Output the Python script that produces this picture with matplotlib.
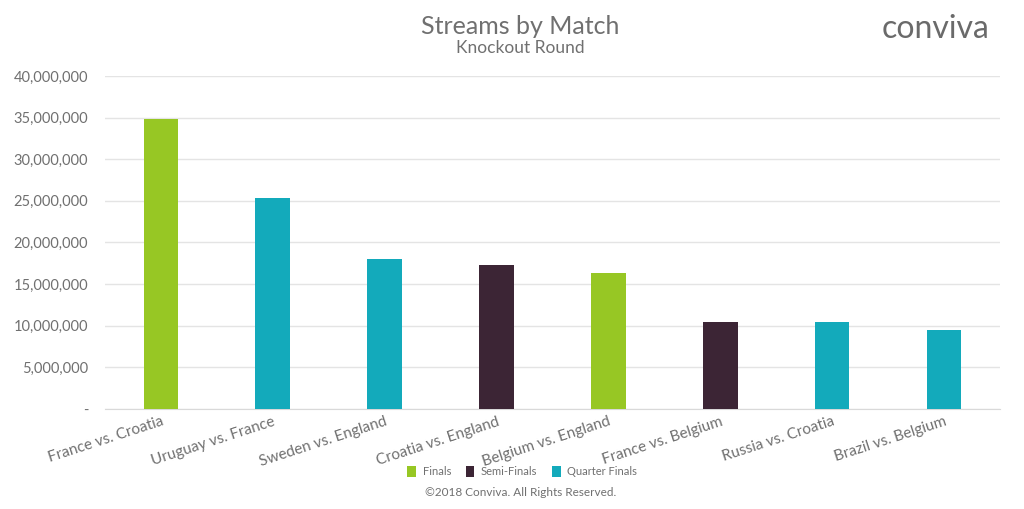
import matplotlib.pyplot as plt
from matplotlib.patches import Patch
from matplotlib.ticker import FuncFormatter

# Datos
matches = ['France vs. Croatia', 'Uruguay vs. France', 'Sweden vs. England',
           'Croatia vs. England', 'Belgium vs. England', 'France vs. Belgium',
           'Russia vs. Croatia', 'Brazil vs. Belgium']
streams = [34800000, 25400000, 18000000, 17300000, 16300000, 10450000, 10450000, 9500000]
rounds = ['Finals', 'Quarter Finals', 'Quarter Finals', 'Semi-Finals', 'Finals',
          'Semi-Finals', 'Quarter Finals', 'Quarter Finals']
round_names = ['Finals', 'Semi-Finals', 'Quarter Finals']

colors = {'Finals': '#97c724', 'Semi-Finals': '#3c2535', 'Quarter Finals': '#13aabb'}
text_color = '#707070'

plt.rcParams['font.family'] = ['Lato', 'DejaVu Sans']

fig = plt.figure(figsize=(10.24, 5.09), dpi=100)
ax = fig.add_axes([0.1025, 0.1965, 0.874, 0.6542])

x = range(len(matches))
ax.bar(x, streams, width=0.31, color=[colors[r] for r in rounds], zorder=3)

ax.set_ylim(0, 40000000)
ax.set_xlim(-0.5, len(matches) - 0.5)
ax.set_yticks(range(0, 40000001, 5000000))
ax.yaxis.set_major_formatter(FuncFormatter(lambda v, p: '-' if v == 0 else f'{int(v):,}'))
ax.grid(axis='y', color='#e4e4e4', linewidth=1, zorder=0)
for s in ['top', 'right', 'left']:
    ax.spines[s].set_visible(False)
ax.spines['bottom'].set_color('#d9d9d9')
ax.tick_params(axis='both', length=0, colors=text_color)
ax.tick_params(axis='y', pad=12, labelsize=10.5)
ax.set_xticks(list(x))
ax.set_xticklabels(matches, rotation=18, ha='right', rotation_mode='anchor', fontsize=11)
ax.tick_params(axis='x', pad=4)

# Títulos
fig.text(0.508, 0.947, 'Streams by Match', ha='center', va='center', fontsize=18, color=text_color)
fig.text(0.508, 0.905, 'Knockout Round', ha='center', va='center', fontsize=12.5, color=text_color)
fig.text(0.914, 0.944, 'conviva', ha='center', va='center', fontsize=23, color='#6a6a6a')

# Leyenda
handles = [Patch(facecolor=colors[r], label=r) for r in round_names]
fig.legend(handles=handles, loc='center', bbox_to_anchor=(0.51, 0.073), ncol=3, frameon=False,
           fontsize=8, labelcolor=text_color, handlelength=0.8, handleheight=1.1,
           handletextpad=0.6, columnspacing=1.3)
fig.text(0.508, 0.033, '©2018 Conviva. All Rights Reserved.', ha='center', va='center',
         fontsize=8.5, color=text_color)

fig.savefig('out.png', dpi=100)
